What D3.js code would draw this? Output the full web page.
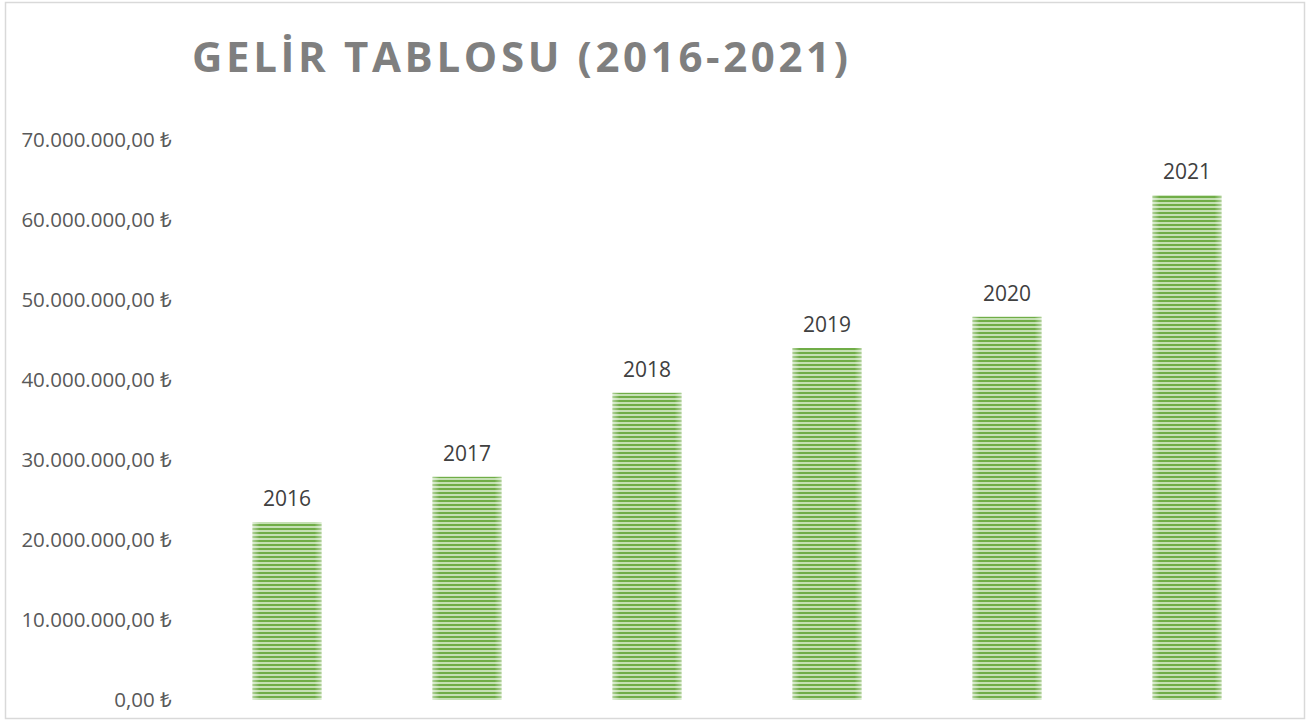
<!DOCTYPE html>
<html lang="tr">
<head>
<meta charset="UTF-8">
<title>Gelir Tablosu</title>
<style>
    body { margin: 0; background: #fff; }
    svg { display: block; }
    .tick-label { font-family: "Open Sans", sans-serif; font-size: 20.5px; fill: #595959; }
    .bar-label { font-family: "Open Sans", sans-serif; font-size: 21px; fill: #404040; }
    .title { font-family: "Open Sans", sans-serif; font-weight: bold; font-size: 42px; fill: #7f7f7f; }
</style>
</head>
<body>
<svg id="chart"></svg>
<script src="https://d3js.org/d3.v7.min.js"></script>
<script>
    // data
    const years = ["2016", "2017", "2018", "2019", "2020", "2021"];
    const revenue = [22250000, 27900000, 38400000, 44000000, 47900000, 63100000];
    const yTicks = [0, 10000000, 20000000, 30000000, 40000000, 50000000, 60000000, 70000000];

    const width = 1309, height = 723;
    const svg = d3.select("#chart").attr("width", width).attr("height", height);

    // stripe pattern + soft edges
    const defs = svg.append("defs");
    const pat = defs.append("pattern")
        .attr("id", "stripes")
        .attr("patternUnits", "userSpaceOnUse")
        .attr("width", 8).attr("height", 4);
    pat.append("rect").attr("width", 8).attr("height", 4).attr("fill", "#c5e0b4");
    pat.append("rect").attr("y", 0).attr("width", 8).attr("height", 2).attr("fill", "#70ad47");

    const edge = defs.append("linearGradient").attr("id", "edge");
    edge.append("stop").attr("offset", "0%").attr("stop-color", "#fff").attr("stop-opacity", 0.45);
    edge.append("stop").attr("offset", "10%").attr("stop-color", "#fff").attr("stop-opacity", 0);
    edge.append("stop").attr("offset", "90%").attr("stop-color", "#fff").attr("stop-opacity", 0);
    edge.append("stop").attr("offset", "100%").attr("stop-color", "#fff").attr("stop-opacity", 0.45);

    // chart frame
    svg.append("rect")
        .attr("x", 5.5).attr("y", 2.5)
        .attr("width", 1299).attr("height", 716)
        .attr("fill", "#fff")
        .attr("stroke", "#d9d9d9")
        .attr("stroke-width", 1.5);

    svg.append("text")
        .attr("class", "title")
        .attr("x", 192).attr("y", 72)
        .attr("textLength", 656)
        .attr("lengthAdjust", "spacing")
        .text("GELİR TABLOSU (2016-2021)");

    const x = d3.scaleBand()
        .domain(years)
        .range([197, 1277])
        .paddingInner(0.617)
        .paddingOuter(0.3085);

    const y = d3.scaleLinear()
        .domain([0, 70000000])
        .range([700, 140]);

    const fmt = v => d3.formatLocale({ decimal: ",", thousands: ".", grouping: [3], currency: ["", ""] })
        .format(",.2f")(v) + " ₺";

    const yAxis = d3.axisLeft(y).tickValues(yTicks).tickSize(0).tickFormat(fmt);
    const ag = svg.append("g").attr("transform", "translate(172,0)").call(yAxis);
    ag.select(".domain").remove();
    ag.attr("font-size", null).attr("font-family", null);
    ag.selectAll("text")
        .attr("class", "tick-label")
        .attr("x", 0)
        .attr("dy", "0.32em")
        .attr("fill", null);

    const bars = svg.append("g");
    years.forEach((yr, i) => {
        const bx = x(yr), bw = x.bandwidth(), by = y(revenue[i]), bh = y(0) - y(revenue[i]);
        bars.append("rect")
            .attr("x", bx).attr("y", by).attr("width", bw).attr("height", bh)
            .attr("fill", "url(#stripes)");
        bars.append("rect")
            .attr("x", bx).attr("y", by).attr("width", bw).attr("height", bh)
            .attr("fill", "url(#edge)");
        svg.append("text")
            .attr("class", "bar-label")
            .attr("x", bx + bw / 2)
            .attr("y", by - 16)
            .attr("text-anchor", "middle")
            .text(yr);
    });
</script>
</body>
</html>
